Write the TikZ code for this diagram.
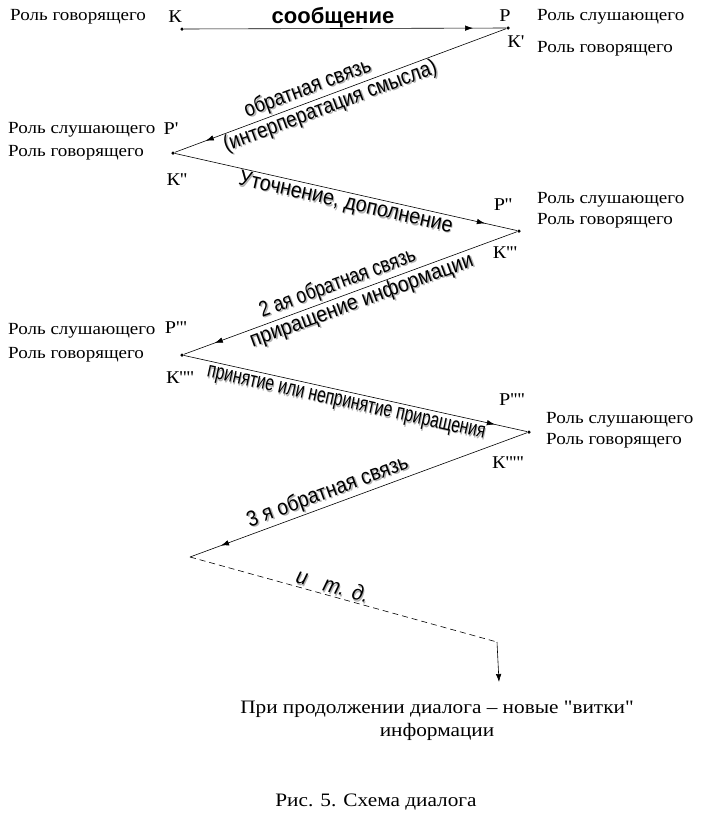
\documentclass[tikz,border=0pt]{standalone}
\usepackage{fontspec}
\setmainfont{Liberation Serif}[Ligatures=TeXOff, FakeStretch=1.12]
\newfontfamily\wafont{Liberation Sans}
\usepackage{graphicx}
\usetikzlibrary{positioning, arrows.meta, decorations.markings}

% shadowed, narrowed text of the slanted labels
\newcommand{\shad}[1]{\rlap{\kern1.4pt\raisebox{-1.4pt}{\textcolor{black!30}{#1}}}#1}
\newcommand{\wat}[2][0.85]{\scalebox{#1}[1]{\shad{#2}}}

\begin{document}
\begin{tikzpicture}[
    x=1pt, y=-1pt,
    role/.style={
        font=\fontsize{17}{19}\selectfont, anchor=west, inner sep=0pt
    },
    letter/.style={
        font=\fontsize{18}{20}\selectfont, inner sep=0pt
    },
    dot/.style={
        circle, fill, inner sep=0pt, minimum size=3.5pt
    },
    arr/.style={
        line width=0.6pt, postaction={decorate},
        decoration={markings, mark=at position -33pt with {\arrow{Latex[length=8pt,width=5.5pt]}}}
    },
    wa/.style={
        font=\wafont\fontsize{22}{24}\selectfont, sloped, inner sep=1pt
    }
]
\useasboundingbox (0,0) rectangle (711,836);

% Turning points of the dialogue
\node[dot] (k0) at (182,29) {};
\node[dot] (v1) at (508,28) {};
\node[dot] (v2) at (173,153) {};
\node[dot] (v3) at (519,231) {};
\node[dot] (v4) at (182,355) {};
\node[dot] (v5) at (529,432) {};
\coordinate (v6) at (190,557);
\coordinate (v7) at (497,642);
\coordinate (v8) at (499,682);

% Turn 0: message
\node[role] (r0) at (10,17) {Роль говорящего};
\node[letter] (lk0) at (175,17) {К};
\node[font=\wafont\bfseries\fontsize{22}{24}\selectfont] (msg) at (333,18) {сообщение};
\draw[arr] (k0) -- (v1);

% Turn 1
\node[letter] (lp1) at (505,16) {Р};
\node[letter] (lk1) at (516,42) {К'};
\node[role] (r1a) at (537,17) {Роль слушающего};
\node[role] (r1b) at (537,49) {Роль говорящего};
\draw[arr] (v1) -- node[wa, above, pos=0.585] {\wat[0.85]{обратная связь}}
                   node[wa, below, pos=0.543] {\wat[0.855]{(интерператация смысла)}} (v2);

% Turn 2
\node[role] (r2a) at (8,130) {Роль слушающего};
\node[role] (r2b) at (8,153) {Роль говорящего};
\node[letter] (lp2) at (171,129) {Р'};
\node[letter] (lk2) at (177,180) {К''};
\draw[arr] (v2) -- node[wa, below, pos=0.506] {\wat[0.9]{Уточнение, дополнение}} (v3);

% Turn 3
\node[letter] (lp3) at (503,205) {Р''};
\node[letter] (lk3) at (505,253) {К'''};
\node[role] (r3a) at (537,200) {Роль слушающего};
\node[role] (r3b) at (537,221) {Роль говорящего};
\draw[arr] (v3) -- node[wa, above, pos=0.525] {\wat[0.8]{2 ая обратная связь}}
                   node[wa, below, pos=0.478] {\wat[0.89]{приращение информации}} (v4);

% Turn 4
\node[role] (r4a) at (8,331) {Роль слушающего};
\node[role] (r4b) at (8,355) {Роль говорящего};
\node[letter] (lp4) at (176,328) {Р'''};
\node[letter] (lk4) at (180,378) {К''''};
\draw[arr] (v4) -- node[wa, below=3pt, pos=0.48] {\wat[0.715]{принятие или непринятие приращения}} (v5);

% Turn 5
\node[letter] (lp5) at (512,400) {Р''''};
\node[letter] (lk5) at (508,463) {К'''''};
\node[role] (r5a) at (546,420) {Роль слушающего};
\node[role] (r5b) at (546,441) {Роль говорящего};
\draw[arr] (v5) -- node[wa, above, pos=0.578] {\wat[0.88]{3 я обратная связь}} (v6);

% Continuation
\draw[line width=0.6pt, dash pattern=on 6pt off 4pt] (v6) -- node[wa, above, pos=0.456] {\wat[0.92]{\itshape и\ \ \ т. д.}} (v7);
\draw[line width=0.6pt, -{Latex[length=8pt,width=5.5pt]}] (v7) -- (v8);

\node[font=\fontsize{19}{23}\selectfont, align=center] (cont) at (437,721) {При продолжении диалога – новые "витки"\\информации};
\node[font=\fontsize{19}{23}\selectfont] (cap) at (376,802) {Рис. 5. Схема диалога};

\end{tikzpicture}
\end{document}
